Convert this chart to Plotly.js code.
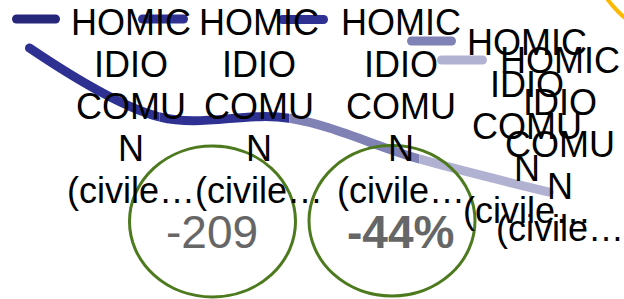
<!DOCTYPE html>
<html><head><meta charset="utf-8">
<script src="https://cdn.plot.ly/plotly-3.0.1.min.js"></script>
<style>
html,body{margin:0;padding:0;background:#fff;overflow:hidden}
#chart{width:624px;height:299px}
.scatterlayer .js-line{stroke-linecap:round}
.shapelayer path[data-index="0"],.shapelayer path[data-index="1"],.shapelayer path[data-index="2"],.shapelayer path[data-index="3"],.shapelayer path[data-index="4"]{stroke-linecap:round}
</style></head><body><div id="chart"></div>
<script>
// ---- data ----
const periods = ['1', '2', '3', '4', '5'];
const values = [475, 375, 373, 314, 266];
const seriesNames = [
  'HOMICIDIO COMUN (civile…',
  'HOMICIDIO COMUN (civile…',
  'HOMICIDIO COMUN (civile…',
  'HOMICIDIO COMUN (civile…',
  'HOMICIDIO COMUN (civile…'
];
const labelLines = ['HOMIC', 'IDIO', 'COMU', 'N', '(civile…'];
const seriesColors = ['#26277a', '#2e3192', '#2e3192', '#8081b5', '#b1b1d1'];

// ---- derived KPIs ----
const diff = values[values.length - 1] - values[0];
const pct = Math.round(diff / values[0] * 100);
const diffText = String(diff);
const pctText = pct + '%';

// ---- helpers (pixel -> paper) ----
const W = 624, H = 299;
const px = x => x / W;
const py = y => 1 - y / H;

// x scale: category index -> pixel
const X0 = 29.5, DX = 129.9;
const n = values.length;

// ---- traces: one smooth line, each segment clipped to its own x-domain and coloured ----
const traces = [];
const layout = {
  width: W, height: H,
  margin: {l: 0, r: 0, t: 0, b: 0, pad: 0},
  paper_bgcolor: '#ffffff', plot_bgcolor: 'rgba(0,0,0,0)',
  showlegend: false,
  yaxis: {range: [110.7, 544.7], visible: false, fixedrange: true}
};
for (let k = 0; k < n - 1; k++) {
  const d0 = k === 0 ? 0 : X0 + DX * k;
  const d1 = k === n - 2 ? W : X0 + DX * (k + 1);
  const axName = k === 0 ? 'xaxis' : 'xaxis' + (k + 1);
  layout[axName] = {
    type: 'category', domain: [px(d0), px(d1)],
    range: [(d0 - X0) / DX, (d1 - X0) / DX],
    visible: false, fixedrange: true, anchor: 'y'
  };
  traces.push({
    type: 'scatter', mode: 'lines',
    x: periods, y: values,
    xaxis: k === 0 ? 'x' : 'x' + (k + 1), yaxis: 'y',
    name: seriesNames[k + 1],
    line: {color: seriesColors[k + 1], width: 9, shape: 'spline', smoothing: 1},
    hoverinfo: 'skip', showlegend: false
  });
}

// ---- legend (custom, centred wrapped text) ----
const legendPos = [
  {sx: 16.5, ex: 55.5, sy: 19, tx: 131, b: 35},
  {sx: 142.5, ex: 183.5, sy: 19, tx: 259, b: 35},
  {sx: 282.5, ex: 323.5, sy: 19.5, tx: 401, b: 35},
  {sx: 411.5, ex: 451.5, sy: 41, tx: 527, b: 55},
  {sx: 441.5, ex: 482.5, sy: 60, tx: 560, b: 73}
];
const shapes = [];
const annotations = [];
const FONT = 'Liberation Sans, Arial, sans-serif';
legendPos.forEach((p, i) => {
  shapes.push({type: 'line', xref: 'paper', yref: 'paper',
    x0: px(p.sx), x1: px(p.ex), y0: py(p.sy), y1: py(p.sy),
    line: {color: seriesColors[i], width: 9}, layer: 'above'});
  labelLines.forEach((t, l) => {
    annotations.push({xref: 'paper', yref: 'paper', x: px(p.tx), y: py(p.b + 42 * l - 12.5),
      xanchor: 'center', yanchor: 'middle', showarrow: false, text: t,
      font: {family: FONT, size: 36, color: '#000'}});
  });
});

// ---- KPI circles ----
const green = '#4d7a1e';
shapes.push({type: 'circle', xref: 'paper', yref: 'paper', x0: px(129.5), x1: px(295.5), y0: py(297), y1: py(146), line: {color: green, width: 3}, layer: 'above'});
shapes.push({type: 'circle', xref: 'paper', yref: 'paper', x0: px(309), x1: px(475), y0: py(296), y1: py(145.5), line: {color: green, width: 3}, layer: 'above'});
shapes.push({type: 'circle', xref: 'paper', yref: 'paper', x0: px(584.4), x1: px(815.6), y0: py(45.6), y1: py(-185.6), line: {color: '#fbb900', width: 4}, layer: 'above'});

annotations.push({xref: 'paper', yref: 'paper', x: px(212), y: py(232), xanchor: 'center', yanchor: 'middle', showarrow: false,
  text: diffText, font: {family: FONT, size: 46, color: '#666666'}});
annotations.push({xref: 'paper', yref: 'paper', x: px(400), y: py(232), xanchor: 'center', yanchor: 'middle', showarrow: false,
  text: '<b>' + pctText + '</b>', font: {family: FONT, size: 46, color: '#666666'}});

layout.shapes = shapes;
layout.annotations = annotations;

Plotly.newPlot('chart', traces, layout, {staticPlot: true, displayModeBar: false});
</script></body></html>
